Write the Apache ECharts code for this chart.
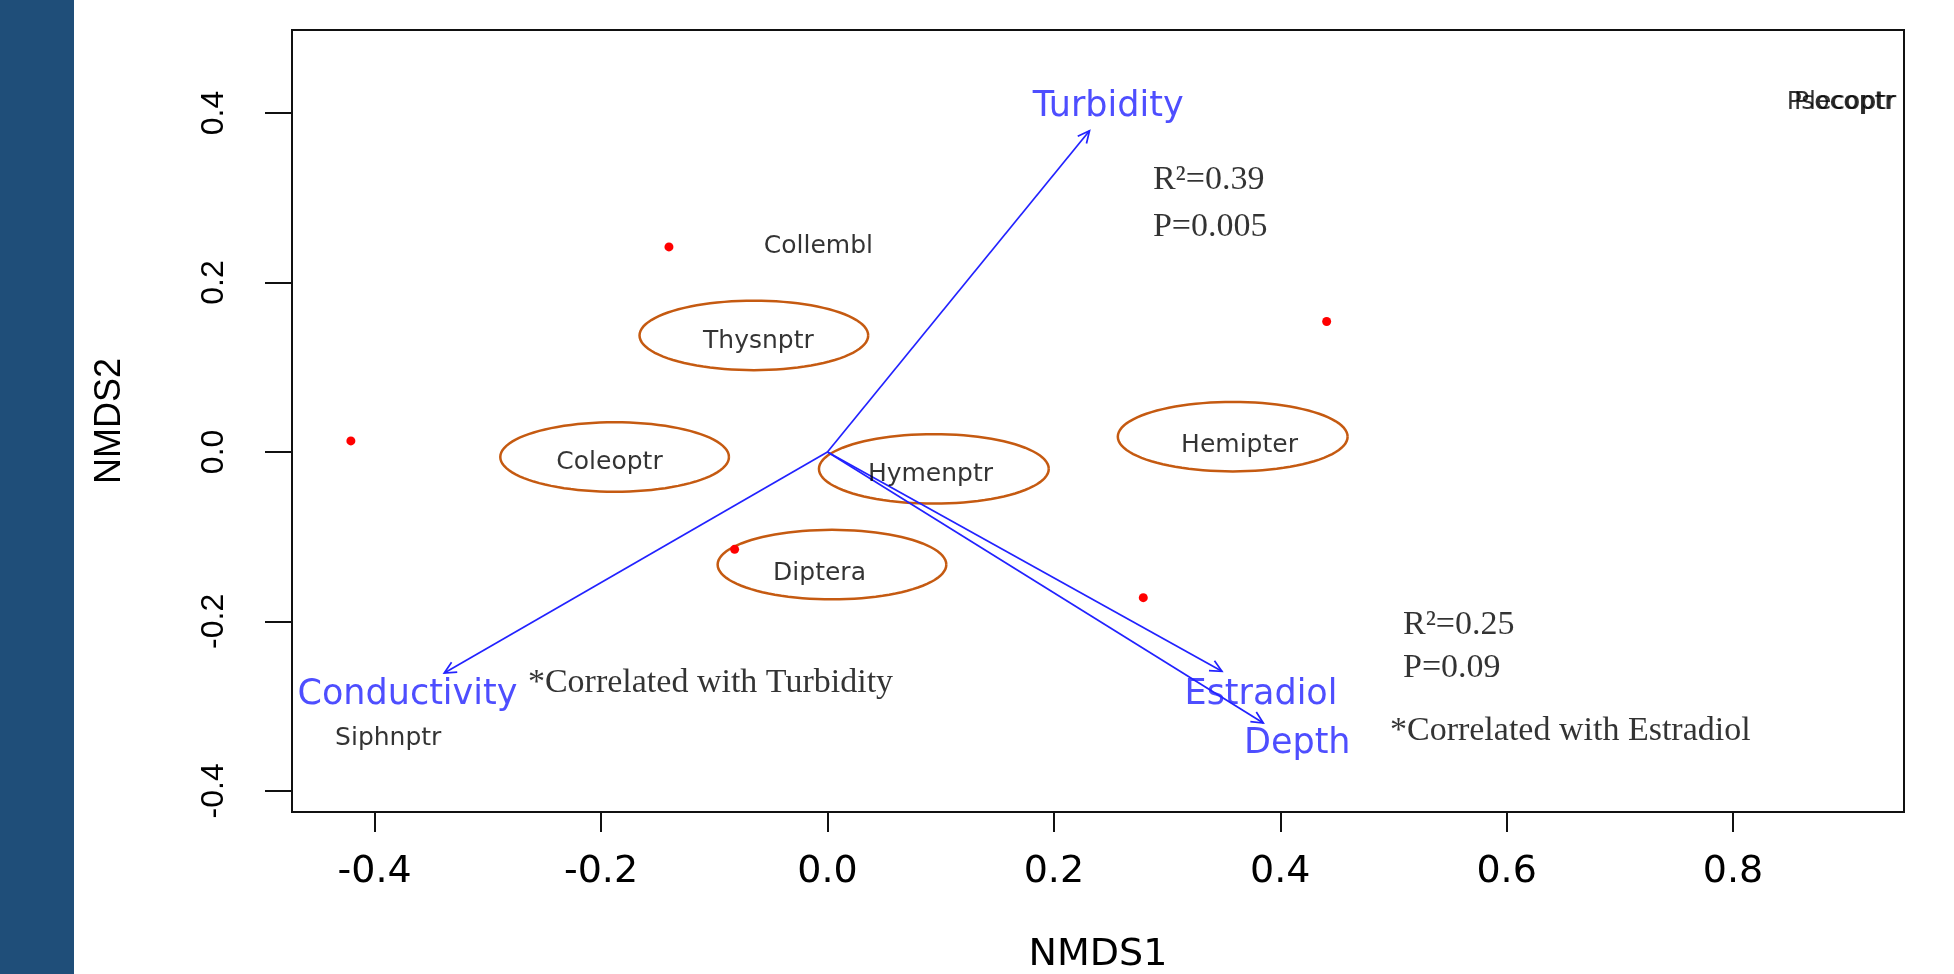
<!DOCTYPE html>
<html>
<head>
<meta charset="utf-8">
<script src="https://cdn.jsdelivr.net/npm/echarts@6/dist/echarts.min.js"></script>
<style>
html,body{margin:0;padding:0;background:#ffffff;}
#chart{width:1954px;height:974px;}
</style>
</head>
<body>
<div id="chart"></div>
<script>
// ---- data ----
const xTicks = [-0.4, -0.2, 0.0, 0.2, 0.4, 0.6, 0.8];
const yTicks = [-0.4, -0.2, 0.0, 0.2, 0.4];

const siteX = [-0.140, 0.441, -0.421, -0.082, 0.279];
const siteY = [0.242, 0.154, 0.013, -0.115, -0.172];

const speciesNames = ['Collembl', 'Thysnptr', 'Coleoptr', 'Hymenptr', 'Diptera', 'Hemipter', 'Siphnptr', 'Psocoptr', 'Plecoptr'];
const speciesX = [-0.008, -0.061, -0.1925, 0.091, -0.007, 0.364, -0.388, 0.895, 0.899];
const speciesY = [0.242, 0.130, -0.013, -0.027, -0.143, 0.008, -0.338, 0.413, 0.413];

const vectorNames = ['Turbidity', 'Conductivity', 'Estradiol', 'Depth'];
const vectorX = [0.2315, -0.3385, 0.3485, 0.385];
const vectorY = [0.379, -0.261, -0.259, -0.320];
const vectorLabelX = [0.248, -0.371, 0.383, 0.415];
const vectorLabelY = [0.407, -0.287, -0.287, -0.345];

const ellipseCX = [-0.065, -0.188, 0.004, 0.094, 0.358];
const ellipseCY = [0.1375, -0.006, -0.133, -0.020, 0.018];
const ellipseRX = [0.101, 0.101, 0.101, 0.1015, 0.1015];
const ellipseRY = [0.041, 0.041, 0.041, 0.041, 0.041];

const noteTexts = ['R\u00B2=0.39', 'P=0.005', '*Correlated with Turbidity', 'R\u00B2=0.25', 'P=0.09', '*Correlated with Estradiol'];
const noteX = [0.2875, 0.2875, -0.2646, 0.5084, 0.5084, 0.4969];
const noteY = [0.321, 0.2655, -0.2726, -0.2041, -0.2549, -0.3292];

// ---- chart ----
const chart = echarts.init(document.getElementById('chart'), null, {renderer: 'canvas'});
const BLUE = '#2222ff';
const SANS_WIDE = '"DejaVu Sans", sans-serif';
const SANS = '"Liberation Sans", Arial, sans-serif';
const SERIF = '"Liberation Serif", "Times New Roman", serif';

const option = {
  backgroundColor: '#ffffff',
  animation: false,
  graphic: [
    {type: 'rect', left: 0, top: 0, shape: {width: 74, height: 974}, style: {fill: '#1f4e79'}, z: 0}
  ],
  grid: {
    left: 292, right: 50, top: 30, bottom: 162,
    outerBoundsMode: 'none', containLabel: false,
    show: true, borderColor: '#111', borderWidth: 2, backgroundColor: '#fff'
  },
  xAxis: {
    type: 'value', min: -0.473, max: 0.951, position: 'bottom',
    name: 'NMDS1', nameLocation: 'middle', nameGap: 124,
    nameTextStyle: {fontFamily: SANS_WIDE, fontSize: 38, color: '#000'},
    splitLine: {show: false},
    axisLine: {show: false, onZero: false},
    axisTick: {show: true, length: 20, customValues: xTicks, lineStyle: {color: '#111', width: 2}},
    axisLabel: {customValues: xTicks, margin: 41, fontFamily: SANS_WIDE, fontSize: 38, color: '#000',
      formatter: v => v.toFixed(1)}
  },
  yAxis: {
    type: 'value', min: -0.425, max: 0.498, position: 'left',
    name: 'NMDS2', nameLocation: 'middle', nameGap: 164, nameRotate: 90,
    nameTextStyle: {fontFamily: SANS, fontSize: 36, color: '#000'},
    splitLine: {show: false},
    axisLine: {show: false, onZero: false},
    axisTick: {show: true, length: 27, customValues: yTicks, lineStyle: {color: '#111', width: 2}},
    axisLabel: {customValues: yTicks, rotate: 90, margin: 62, fontFamily: SANS, fontSize: 32, color: '#000',
      formatter: v => v.toFixed(1)}
  },
  series: [
    {
      name: 'ellipses', type: 'custom', coordinateSystem: 'cartesian2d', z: 3,
      data: ellipseCX.map((x, i) => [x, ellipseCY[i], ellipseRX[i], ellipseRY[i]]),
      renderItem: function (params, api) {
        const c = api.coord([api.value(0), api.value(1)]);
        const s = api.size([api.value(2), api.value(3)]);
        const pts = [];
        for (let k = 0; k <= 96; k++) {
          const t = k / 96 * Math.PI * 2;
          pts.push([c[0] + s[0] * Math.cos(t), c[1] + s[1] * Math.sin(t)]);
        }
        return {type: 'polyline', shape: {points: pts}, style: {stroke: '#c55a11', lineWidth: 2.5, fill: null}};
      }
    },
    {
      name: 'vectors', type: 'custom', coordinateSystem: 'cartesian2d', z: 4,
      data: vectorX.map((x, i) => [x, vectorY[i]]),
      renderItem: function (params, api) {
        const o = api.coord([0, 0]);
        const t = api.coord([api.value(0), api.value(1)]);
        const ang = Math.atan2(t[1] - o[1], t[0] - o[0]);
        const L = 13, a = Math.PI / 7;
        const p1 = [t[0] - L * Math.cos(ang - a), t[1] - L * Math.sin(ang - a)];
        const p2 = [t[0] - L * Math.cos(ang + a), t[1] - L * Math.sin(ang + a)];
        return {type: 'group', children: [
          {type: 'line', shape: {x1: o[0], y1: o[1], x2: t[0], y2: t[1]}, style: {stroke: BLUE, lineWidth: 1.7}},
          {type: 'polyline', shape: {points: [p1, t, p2]}, style: {stroke: BLUE, lineWidth: 1.7, fill: null}}
        ]};
      }
    },
    {
      name: 'sites', type: 'scatter', z: 5,
      symbol: 'circle', symbolSize: 9,
      itemStyle: {color: '#ff0000', opacity: 1},
      data: siteX.map((x, i) => [x, siteY[i]])
    },
    {
      name: 'species', type: 'scatter', z: 6, symbolSize: 0,
      data: speciesX.map((x, i) => ({value: [x, speciesY[i]], name: speciesNames[i]})),
      label: {show: true, position: 'inside', formatter: p => p.name,
        fontFamily: SANS_WIDE, fontSize: 25, color: '#000'}
    },
    {
      name: 'vectorLabels', type: 'scatter', z: 6, symbolSize: 0,
      data: vectorLabelX.map((x, i) => ({value: [x, vectorLabelY[i]], name: vectorNames[i]})),
      label: {show: true, position: 'inside', formatter: p => p.name,
        fontFamily: SANS_WIDE, fontSize: 35, color: BLUE}
    },
    {
      name: 'notes', type: 'scatter', z: 6, symbolSize: 0,
      data: noteX.map((x, i) => ({value: [x, noteY[i]], name: noteTexts[i]})),
      label: {show: true, position: 'inside', align: 'left', verticalAlign: 'middle', formatter: p => p.name,
        fontFamily: SERIF, fontSize: 34, color: '#000'}
    }
  ]
};
chart.setOption(option);
</script>
</body>
</html>
